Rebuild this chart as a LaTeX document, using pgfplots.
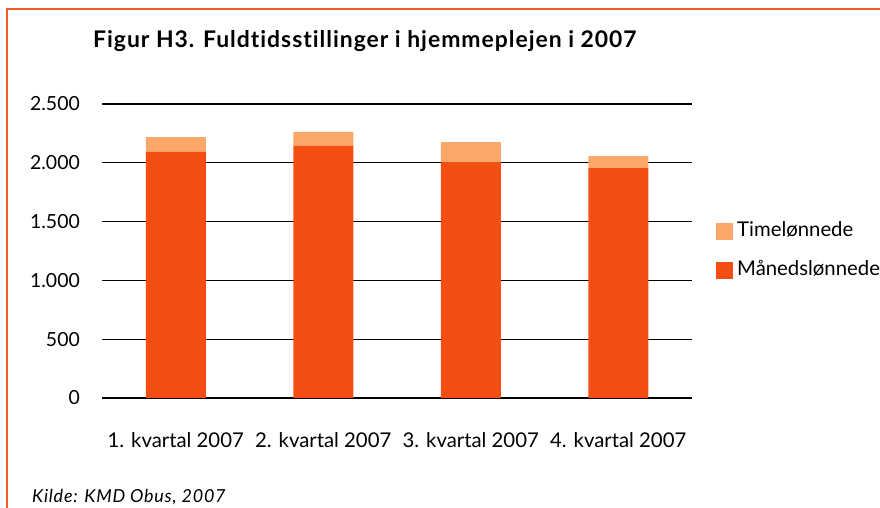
\documentclass[border=0pt]{standalone}
\usepackage{pgfplots}
\pgfplotsset{compat=1.18}
\usepackage{fontspec}
\setmainfont{Lato}[Ligatures=NoCommon]
\newfontfamily\spacedfont{Lato}[Ligatures=NoCommon, LetterSpace=4.3]
\definecolor{mdark}{HTML}{F54E12}
\definecolor{tlight}{HTML}{FAA86A}
\definecolor{frame}{HTML}{F15A22}
\begin{document}
\begin{tikzpicture}[x=1bp,y=1bp]
\useasboundingbox (0,0) rectangle (880,508);
\clip (0,0) rectangle (880,508);
% frame
\draw[frame, line width=2bp] (6.5,0) -- (6.5,498.5) -- (880,498.5);
% title
\node[anchor=base west, inner sep=0, font=\spacedfont\bfseries\fontsize{23}{26}\selectfont] at (93,460) {Figur H3. Fuldtidsstillinger i hjemmeplejen i 2007};
% source
\node[anchor=base west, inner sep=0, font=\spacedfont\itshape\fontsize{18}{21}\selectfont] at (32,5) {Kilde: KMD Obus, 2007};
\begin{axis}[
  at={(102bp,110bp)}, anchor=south west,
  width=590bp, height=294bp, scale only axis,
  ybar stacked, bar width=60bp,
  xmin=-0.5, xmax=3.5, ymin=0, ymax=2500,
  xtick={0,1,2,3},
  xticklabels={1. kvartal 2007, 2. kvartal 2007, 3. kvartal 2007, 4. kvartal 2007},
  ytick={0,500,1000,1500,2000,2500},
  ymajorgrids, grid style={black, line width=1.3bp},
  axis line style={draw=none},
  major tick length=0pt,
  /pgf/number format/assume math mode=true,
  /pgf/number format/1000 sep={.},
  scaled y ticks=false,
  tick label style={font=\fontsize{19.5}{22}\selectfont, inner sep=0pt},
  y tick label style={anchor=east, xshift=-22bp},
  x tick label style={anchor=base, yshift=-50bp, font=\fontsize{20.4}{23}\selectfont},
  reverse legend,
  legend style={at={(1,0.5)}, anchor=west, xshift=24bp, draw=none, fill=none,
    inner sep=0pt, row sep=22bp, font=\fontsize{20.4}{23}\selectfont,
    nodes={inner sep=0pt, anchor=west, text height=14bp, text depth=3bp}},
  legend cell align=left,
  legend image code/.code={\fill[#1] (0bp,-8.5bp) rectangle (17bp,8.5bp); \path (21bp,0);},
]
\addplot[fill=mdark, draw=none] coordinates {(0,2092) (1,2143) (2,2005) (3,1955)};
\addlegendentry{Månedslønnede}
\addplot[fill=tlight, draw=none] coordinates {(0,127) (1,119) (2,170) (3,102)};
\addlegendentry{Timelønnede}
\end{axis}
\end{tikzpicture}
\end{document}
